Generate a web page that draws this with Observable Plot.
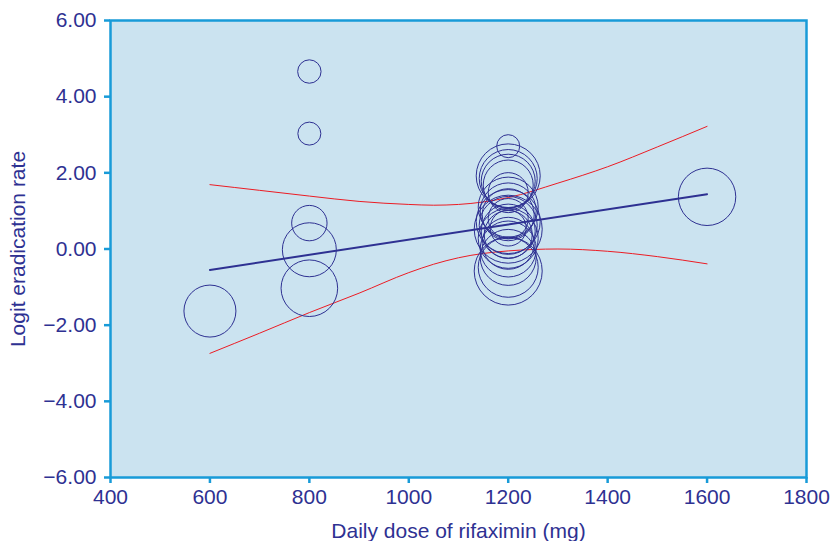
<!DOCTYPE html>
<html>
<head>
<meta charset="utf-8">
<script src="https://cdn.jsdelivr.net/npm/d3@7"></script>
<script src="https://cdn.jsdelivr.net/npm/@observablehq/plot@0.6"></script>
<style>
  html, body { margin: 0; padding: 0; background: #ffffff; }
  #chart { width: 834px; height: 541px; }
</style>
</head>
<body>
<div id="chart"></div>
<script>
// Study-level data: daily dose (mg), logit eradication rate, study weight
const studyDose = [
  600,
  800, 800, 800, 800, 800,
  1200, 1200, 1200, 1200, 1200, 1200, 1200, 1200, 1200, 1200,
  1200, 1200, 1200, 1200, 1200, 1200, 1200, 1200, 1200, 1200, 1200, 1200,
  1600
];
const studyLogit = [
  -1.63,
  4.66, 3.03, 0.68, -0.02, -1.03,
  2.70, 1.92, 1.85, 1.78, 1.68, 1.48, 1.10, 1.00, 0.90, 0.72,
  0.62, 0.52, 0.47, 0.38, 0.55, 0.28, 0.15, 0.00, -0.22, -0.48, -0.58, 0.80,
  1.37
];
const studyWeight = [
  26,
  11.7, 11.5, 17.7, 27, 28.3,
  11.5, 32, 29, 27, 25, 20, 30, 28, 26, 32,
  29, 34, 27, 24, 18, 30, 26, 28, 28, 30, 34, 20,
  28.7
];

// Meta-regression line
const regDose = [600, 1600];
const regLogit = [-0.55, 1.44];

// 95% confidence band
const ciDose = [600, 700, 800, 900, 1000, 1050, 1100, 1200, 1300, 1400, 1500, 1600];
const ciUpper = [1.69, 1.54, 1.39, 1.25, 1.17, 1.15, 1.17, 1.35, 1.73, 2.16, 2.68, 3.22];
const ciLower = [-2.74, -2.21, -1.67, -1.16, -0.62, -0.40, -0.23, -0.05, 0.00, -0.06, -0.20, -0.39];

// Axis ticks
const xTicks = [400, 600, 800, 1000, 1200, 1400, 1600, 1800];
const yTicks = [-6, -4, -2, 0, 2, 4, 6];

const studies = studyDose.map((d, i) => ({dose: d, logit: studyLogit[i], weight: studyWeight[i]}));
const reg = regDose.map((d, i) => ({dose: d, logit: regLogit[i]}));
const upper = ciDose.map((d, i) => ({dose: d, logit: ciUpper[i]}));
const lower = ciDose.map((d, i) => ({dose: d, logit: ciLower[i]}));

const navy = "#2e3192";
const cyan = "#189bd8";
const red = "#ec1c24";

const chart = Plot.plot({
  width: 834,
  height: 541,
  marginLeft: 110,
  marginRight: 28,
  marginTop: 20,
  marginBottom: 64,
  style: {fontFamily: "'Liberation Sans', Arial, sans-serif", fontSize: "21px", color: navy, background: "#ffffff"},
  x: {domain: [400, 1800]},
  y: {domain: [-6, 6]},
  r: {type: "linear", domain: [0, 40], range: [0, 40]},
  marks: [
    Plot.frame({fill: "#cbe3f0", stroke: null}),
    Plot.line(upper, {x: "dose", y: "logit", stroke: red, strokeWidth: 1, curve: "monotone-x"}),
    Plot.line(lower, {x: "dose", y: "logit", stroke: red, strokeWidth: 1, curve: "monotone-x"}),
    Plot.line(reg, {x: "dose", y: "logit", stroke: navy, strokeWidth: 2}),
    Plot.dot(studies, {x: "dose", y: "logit", r: "weight", stroke: navy, strokeWidth: 1, fill: "none"}),
    Plot.frame({stroke: cyan, strokeWidth: 2.5}),
    Plot.axisY({
      ticks: yTicks, tickFormat: d3.format(".2f"), tickSize: 6, tickPadding: 8,
      stroke: cyan, strokeWidth: 2.5, fill: navy, fontSize: 21,
      label: "Logit eradication rate", labelAnchor: "center", labelArrow: "none", labelOffset: 100
    }),
    Plot.axisX({
      ticks: xTicks, tickFormat: d => String(d), tickSize: 6, tickPadding: 6,
      stroke: cyan, strokeWidth: 2.5, fill: navy, fontSize: 21,
      label: "Daily dose of rifaximin (mg)", labelAnchor: "center", labelArrow: "none", labelOffset: 60
    })
  ]
});
document.getElementById("chart").appendChild(chart);
</script>
</body>
</html>
